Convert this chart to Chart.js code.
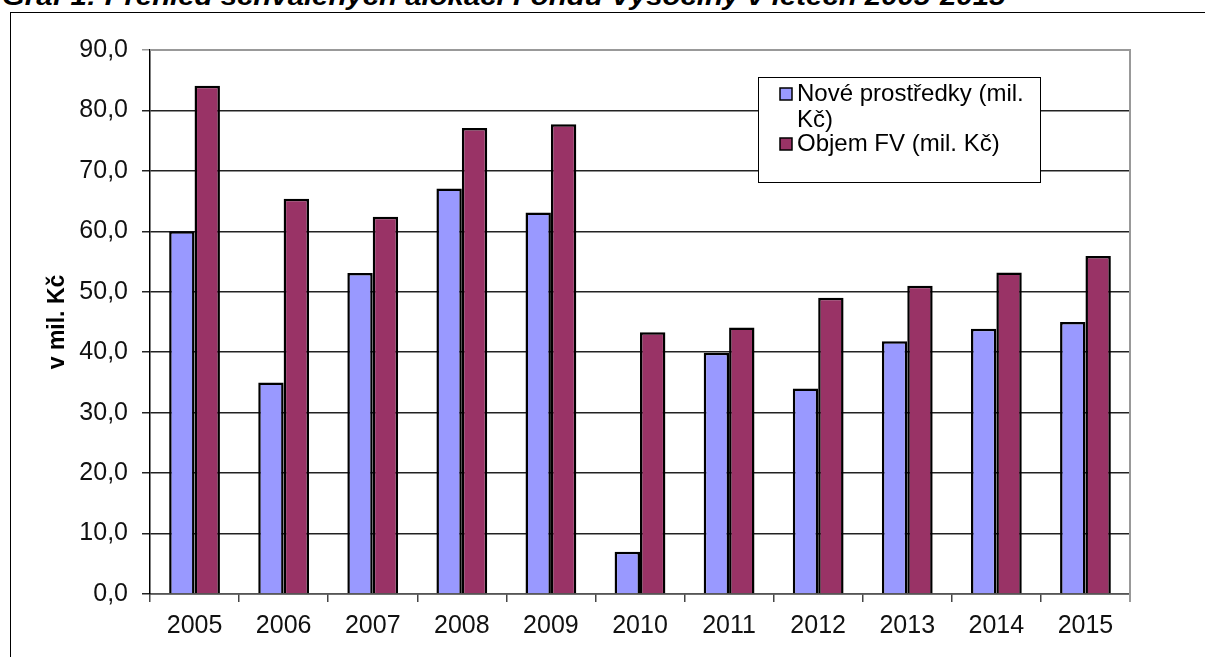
<!DOCTYPE html>
<html>
<head>
<meta charset="utf-8">
<script src="https://cdn.jsdelivr.net/npm/chart.js@4.4.1/dist/chart.umd.min.js"></script>
<style>
  html, body { margin: 0; padding: 0; background: #fff; overflow: hidden; }
  body { width: 1205px; height: 657px; position: relative; font-family: "Liberation Sans", Arial, sans-serif; }
  #caption {
    position: absolute; left: 2px; top: -19px; white-space: nowrap;
    font: italic bold 26px "Liberation Sans", Arial, sans-serif; color: #000;
    transform-origin: 0 0;
  }
  #frame { position: absolute; left: 10px; top: 12px; width: 1400px; height: 900px; border: 1px solid #000; }
  #wrap { position: absolute; left: 0; top: 0; width: 1205px; height: 657px; }
</style>
</head>
<body>
<div id="caption">Graf 1: Přehled schválených alokací Fondu Vysočiny v letech 2005-2015</div>
<div id="frame"></div>
<div id="wrap"><canvas id="myChart" width="1205" height="657"></canvas></div>
<script>
// data
const years = ['2005', '2006', '2007', '2008', '2009', '2010', '2011', '2012', '2013', '2014', '2015'];
const noveProstredky = [60.0, 35.0, 53.1, 67.1, 63.1, 7.0, 39.9, 34.0, 41.8, 43.9, 45.0];
const objemFV = [84.1, 65.4, 62.4, 77.1, 77.7, 43.3, 44.1, 49.0, 51.0, 53.2, 55.9];
const seriesNames = [['Nové prostředky (mil.', 'Kč)'], ['Objem FV (mil. Kč)']];
const yTitle = 'v mil. Kč';

// stretch the caption so it ends where the one in the picture does
const cap = document.getElementById('caption');
cap.style.transform = 'scaleX(' + (1003 / cap.offsetWidth) + ')';

const FONT = '"Liberation Sans", Arial, sans-serif';

// boxed legend like the old Excel one
const boxLegend = {
  id: 'boxLegend',
  afterDraw(chart) {
    const ctx = chart.ctx;
    const bx = 758, by = 77, bw = 282, bh = 105;
    ctx.save();
    ctx.fillStyle = '#fff';
    ctx.fillRect(bx, by, bw, bh);
    ctx.strokeStyle = '#000';
    ctx.lineWidth = 1;
    ctx.strokeRect(bx + 0.5, by + 0.5, bw, bh);
    ctx.font = '24px ' + FONT;
    ctx.textBaseline = 'middle';
    let y = 94;
    chart.data.datasets.forEach((ds, i) => {
      ctx.fillStyle = ds.backgroundColor;
      ctx.fillRect(780, y - 6, 12, 12);
      ctx.strokeStyle = '#000';
      ctx.lineWidth = 1.5;
      ctx.strokeRect(780, y - 6, 12, 12);
      ctx.fillStyle = '#000';
      seriesNames[i].forEach((line, j) => {
        ctx.fillText(line, 797, y + j * 26);
      });
      y += seriesNames[i].length * 25;
    });
    ctx.restore();
  }
};

// gray frame on top and right of the plot area
const plotFrame = {
  id: 'plotFrame',
  afterDatasetsDraw(chart) {
    const a = chart.chartArea;
    const ctx = chart.ctx;
    ctx.save();
    ctx.strokeStyle = '#999';
    ctx.lineWidth = 2;
    ctx.beginPath();
    ctx.moveTo(a.left, a.top);
    ctx.lineTo(a.right, a.top);
    ctx.lineTo(a.right, a.bottom + 8);
    ctx.stroke();
    ctx.restore();
  }
};

new Chart(document.getElementById('myChart'), {
  type: 'bar',
  data: {
    labels: years,
    datasets: [
      {
        label: seriesNames[0].join(' '),
        data: noveProstredky,
        backgroundColor: '#9999FF',
        borderColor: '#000',
        borderWidth: 2.5,
        categoryPercentage: 0.57,
        barPercentage: 1.0
      },
      {
        label: seriesNames[1].join(' '),
        data: objemFV,
        backgroundColor: '#993366',
        borderColor: '#000',
        borderWidth: 2.5,
        categoryPercentage: 0.57,
        barPercentage: 1.0
      }
    ]
  },
  options: {
    responsive: false,
    animation: false,
    layout: { padding: { left: 0, top: 50, right: 75, bottom: 0 } },
    plugins: {
      legend: { display: false },
      tooltip: { enabled: false }
    },
    scales: {
      x: {
        grid: { offset: true, drawOnChartArea: false, tickLength: 8, color: '#444', lineWidth: 1.5 },
        border: { color: '#555', width: 1.5 },
        ticks: { color: '#111', padding: 9, font: { family: FONT, size: 25 } },
        afterFit(scale) { scale.height = 63; }
      },
      y: {
        min: 0,
        max: 90,
        ticks: {
          stepSize: 10,
          color: '#111',
          padding: 14,
          font: { family: FONT, size: 25 },
          callback: v => v.toFixed(1).replace('.', ',')
        },
        grid: {
          tickLength: 8,
          lineWidth: 1.5,
          color: ctx => (ctx.tick && ctx.tick.value === 90 ? '#999' : '#222')
        },
        border: { color: '#000', width: 1.5 },
        title: {
          display: true,
          text: yTitle,
          color: '#000',
          font: { family: FONT, size: 23, weight: 'bold' },
          padding: { top: 44, bottom: 0 }
        },
        afterFit(scale) { scale.width = 150; }
      }
    }
  },
  plugins: [plotFrame, boxLegend]
});
</script>
</body>
</html>
